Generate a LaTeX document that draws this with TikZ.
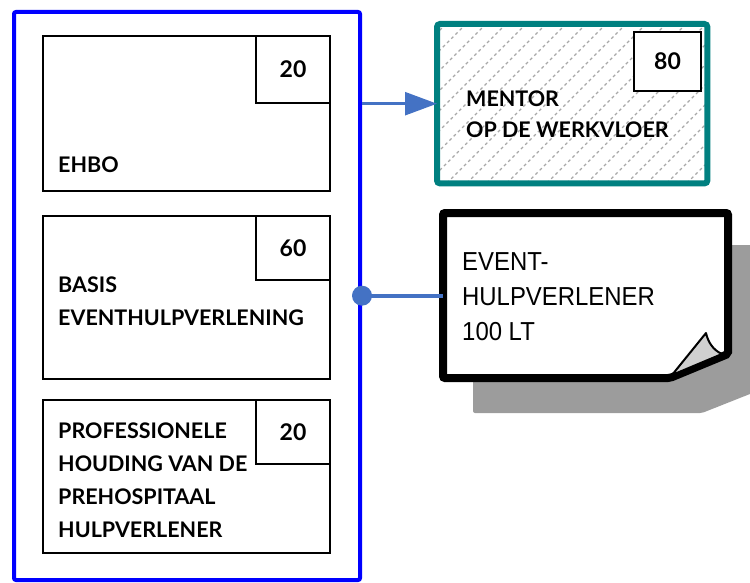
\documentclass[tikz,border=0pt]{standalone}
\usepackage{fontspec}
\setmainfont{Lato}
\newfontfamily\notefont[FakeStretch=0.92]{Liberation Sans}
\usetikzlibrary{arrows.meta}
\definecolor{linkblue}{HTML}{4472C4}
\definecolor{tealbox}{HTML}{008080}
\definecolor{shadowgray}{HTML}{9C9C9C}
\definecolor{curlgray}{HTML}{D0D0D0}
\definecolor{hatchgray}{HTML}{A8A8A8}
\begin{document}
\begin{tikzpicture}[x=1pt,y=-1pt,
  coursebox/.style={draw=black,line width=2pt,fill=white,anchor=north west,inner sep=0pt,minimum width=287pt},
  numbox/.style={draw=black,line width=2pt,fill=white,anchor=north east,inner sep=0pt,minimum width=74pt,font=\fontsize{23}{26}\selectfont\bfseries},
  boxtext/.style={anchor=base west,inner sep=0pt,font=\fontsize{21.5}{24}\selectfont\bfseries},
  notetext/.style={anchor=base west,inner sep=0pt,font=\notefont\fontsize{26}{30}\selectfont},
  link/.style={draw=linkblue,line width=2.5pt}]
\useasboundingbox (0,0) rectangle (750,583);
% outer blue frame
\node[draw=blue,line width=4pt,rounded corners=2pt,anchor=north west,inner sep=0pt,minimum width=346pt,minimum height=568pt] (outer) at (12,10) {};
% course boxes
\node[coursebox,minimum height=155pt] (ehbo) at (42,35) {};
\node[numbox,minimum height=67pt] (ehbonum) at (ehbo.north east) {20};
\node[boxtext] (ehbotxt) at (58,173) {EHBO};
\node[coursebox,minimum height=163pt] (basis) at (42,215) {};
\node[numbox,minimum height=64pt] (basisnum) at (basis.north east) {60};
\node[boxtext] (basistxt1) at (58,292) {BASIS};
\node[boxtext] (basistxt2) at (58,325) {EVENTHULPVERLENING};
\node[coursebox,minimum height=153pt] (prof) at (42,399) {};
\node[numbox,minimum height=64pt] (profnum) at (prof.north east) {20};
\node[boxtext] (proftxt1) at (58,438) {PROFESSIONELE};
\node[boxtext] (proftxt2) at (58,471) {HOUDING VAN DE};
\node[boxtext] (proftxt3) at (58,504) {PREHOSPITAAL};
\node[boxtext] (proftxt4) at (58,537) {HULPVERLENER};
% mentor box with hatching
\node[anchor=north west,inner sep=0pt,minimum width=270pt,minimum height=159pt] (mentor) at (437,24) {};
\begin{scope}
  \clip (mentor.north west) rectangle (mentor.south east);
  \foreach \i in {0,20,...,460}{
    \draw[hatchgray,line width=1.2pt,dash pattern=on 3pt off 3pt] (437+\i-170,183) -- (437+\i,13);
  }
\end{scope}
\draw[tealbox,line width=6pt,rounded corners=3pt] (mentor.north west) rectangle (mentor.south east);
\node[draw=black,line width=2pt,fill=white,anchor=north west,inner sep=0pt,minimum width=67pt,minimum height=59pt,font=\fontsize{23}{26}\selectfont\bfseries] (mentornum) at (633,31) {80};
\node[boxtext] (mentortxt1) at (466,107) {MENTOR};
\node[boxtext] (mentortxt2) at (466,138) {OP DE WERKVLOER};
% note shape
\node[anchor=north west,inner sep=0pt,minimum width=285pt,minimum height=165pt] (note) at (443,213) {};
\fill[shadowgray,rounded corners=2pt] (473,245) -- (760,245) -- (760,390) -- (702,413) -- (473,413) -- cycle;
\draw[black,line width=8pt,fill=white,rounded corners=2pt] (443,213) -- (728,213) -- (728,354) -- (670,378) -- (443,378) -- cycle;
\draw[black,line width=2pt,fill=curlgray,line join=round] (672,375) -- (706,333) .. controls (708,342) and (713,350) .. (722,354) -- cycle;
\node[notetext] (notetxt1) at (462,270) {EVENT-};
\node[notetext] (notetxt2) at (462,305) {HULPVERLENER};
\node[notetext] (notetxt3) at (462,340) {100 LT};
% connectors
\draw[link,-{Triangle[length=32pt,width=23pt]}] (outer.east |- mentor.west) -- (mentor.west);
\draw[draw=linkblue,line width=4pt] (outer.east |- note.west) -- (note.west);
\fill[linkblue] (outer.east |- note.west) circle (10pt);
\end{tikzpicture}
\end{document}
